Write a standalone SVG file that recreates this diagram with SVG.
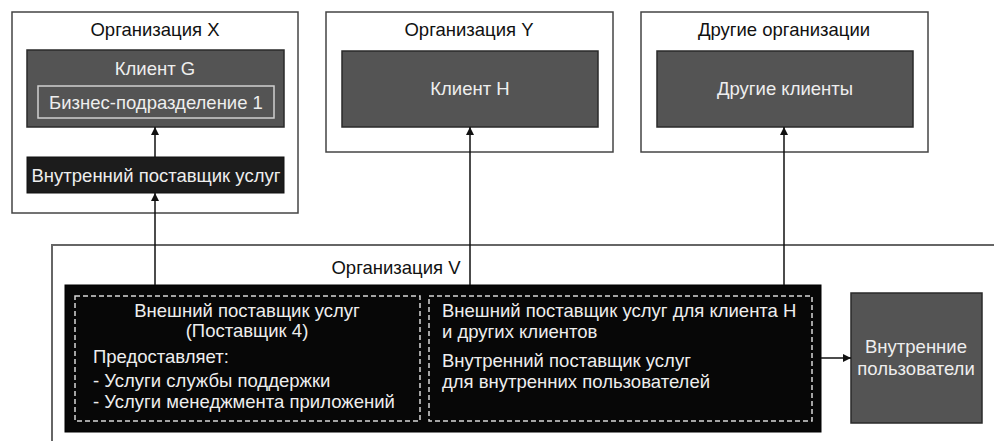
<svg xmlns="http://www.w3.org/2000/svg" width="994" height="441" viewBox="0 0 994 441">
<defs>
<marker id="ah" viewBox="0 0 10 10" refX="10" refY="5" markerWidth="8" markerHeight="8" markerUnits="userSpaceOnUse" orient="auto">
<path d="M0,0 L10,5 L0,10 z" fill="#111"/>
</marker>
<style>
text{font-family:"Liberation Sans",Arial,sans-serif;font-size:18.5px}
.org{fill:#fff;stroke:#444;stroke-width:1.5}
.orgv{fill:#fff;stroke:#666;stroke-width:2}
.gray{fill:#545454;stroke:#2a2a2a;stroke-width:1.5}
.dark{fill:#1c1c1c;stroke:#111;stroke-width:1}
.black{fill:#070707;stroke:#000;stroke-width:1}
.dash{fill:none;stroke:#d8d8d8;stroke-width:1.5;stroke-dasharray:5,3}
.inner{fill:none;stroke:#cfcfcf;stroke-width:1.5}
.t{fill:#111}
.w{fill:#eeeeee}
.c{text-anchor:middle}
.conn{fill:none;stroke:#111;stroke-width:1.5;marker-end:url(#ah)}
</style>
</defs>
<rect width="994" height="441" fill="#fff"/>

<g id="org-v">
<rect class="orgv" x="52" y="245" width="990" height="230"/>
<text class="t c" x="396" y="274">Организация V</text>
</g>

<g id="org-x">
<rect class="org" x="12" y="12" width="286" height="201"/>
<text class="t c" x="155" y="36">Организация X</text>
</g>
<g id="client-g">
<rect class="gray" x="27" y="50" width="257" height="77"/>
<text class="w c" x="155" y="75">Клиент G</text>
<rect class="inner" x="38" y="86" width="236" height="32"/>
<text class="w c" x="156" y="109">Бизнес-подразделение 1</text>
</g>
<g id="internal-provider-x">
<rect class="dark" x="27" y="157" width="257" height="36"/>
<text class="w c" x="156" y="182">Внутренний поставщик услуг</text>
</g>

<g id="org-y">
<rect class="org" x="326" y="12" width="287" height="140"/>
<text class="t c" x="469" y="36">Организация Y</text>
</g>
<g id="client-h">
<rect class="gray" x="342" y="51" width="256" height="76"/>
<text class="w c" x="470" y="95">Клиент H</text>
</g>

<g id="other-orgs">
<rect class="org" x="641" y="12" width="287" height="140"/>
<text class="t c" x="784" y="36">Другие организации</text>
</g>
<g id="other-clients">
<rect class="gray" x="657" y="51" width="256" height="76"/>
<text class="w c" x="785" y="95">Другие клиенты</text>
</g>

<g id="provider-v">
<rect class="black" x="65" y="285" width="756" height="147"/>
<rect class="dash" x="75" y="296" width="345" height="125"/>
<text class="w c" x="247" y="317">Внешний поставщик услуг</text>
<text class="w c" x="247" y="337">(Поставщик 4)</text>
<text class="w" x="93" y="363">Предоставляет:</text>
<text class="w" x="93" y="387">- Услуги службы поддержки</text>
<text class="w" x="93" y="408">- Услуги менеджмента приложений</text>
<rect class="dash" x="429" y="296" width="383" height="125"/>
<text class="w" x="442" y="317">Внешний поставщик услуг для клиента H</text>
<text class="w" x="442" y="338">и других клиентов</text>
<text class="w" x="442" y="367">Внутренний поставщик услуг</text>
<text class="w" x="442" y="388">для внутренних пользователей</text>
</g>

<g id="internal-users">
<rect class="gray" x="851" y="293" width="131" height="130"/>
<text class="w c" x="916" y="353">Внутренние</text>
<text class="w c" x="916" y="375">пользователи</text>
</g>

<g id="connectors">
<path class="conn" d="M155,157 V127"/>
<path class="conn" d="M155,285 V193"/>
<path class="conn" d="M470,285 V127"/>
<path class="conn" d="M784,285 V127"/>
<path class="conn" d="M821,358 H851"/>
</g>
</svg>
